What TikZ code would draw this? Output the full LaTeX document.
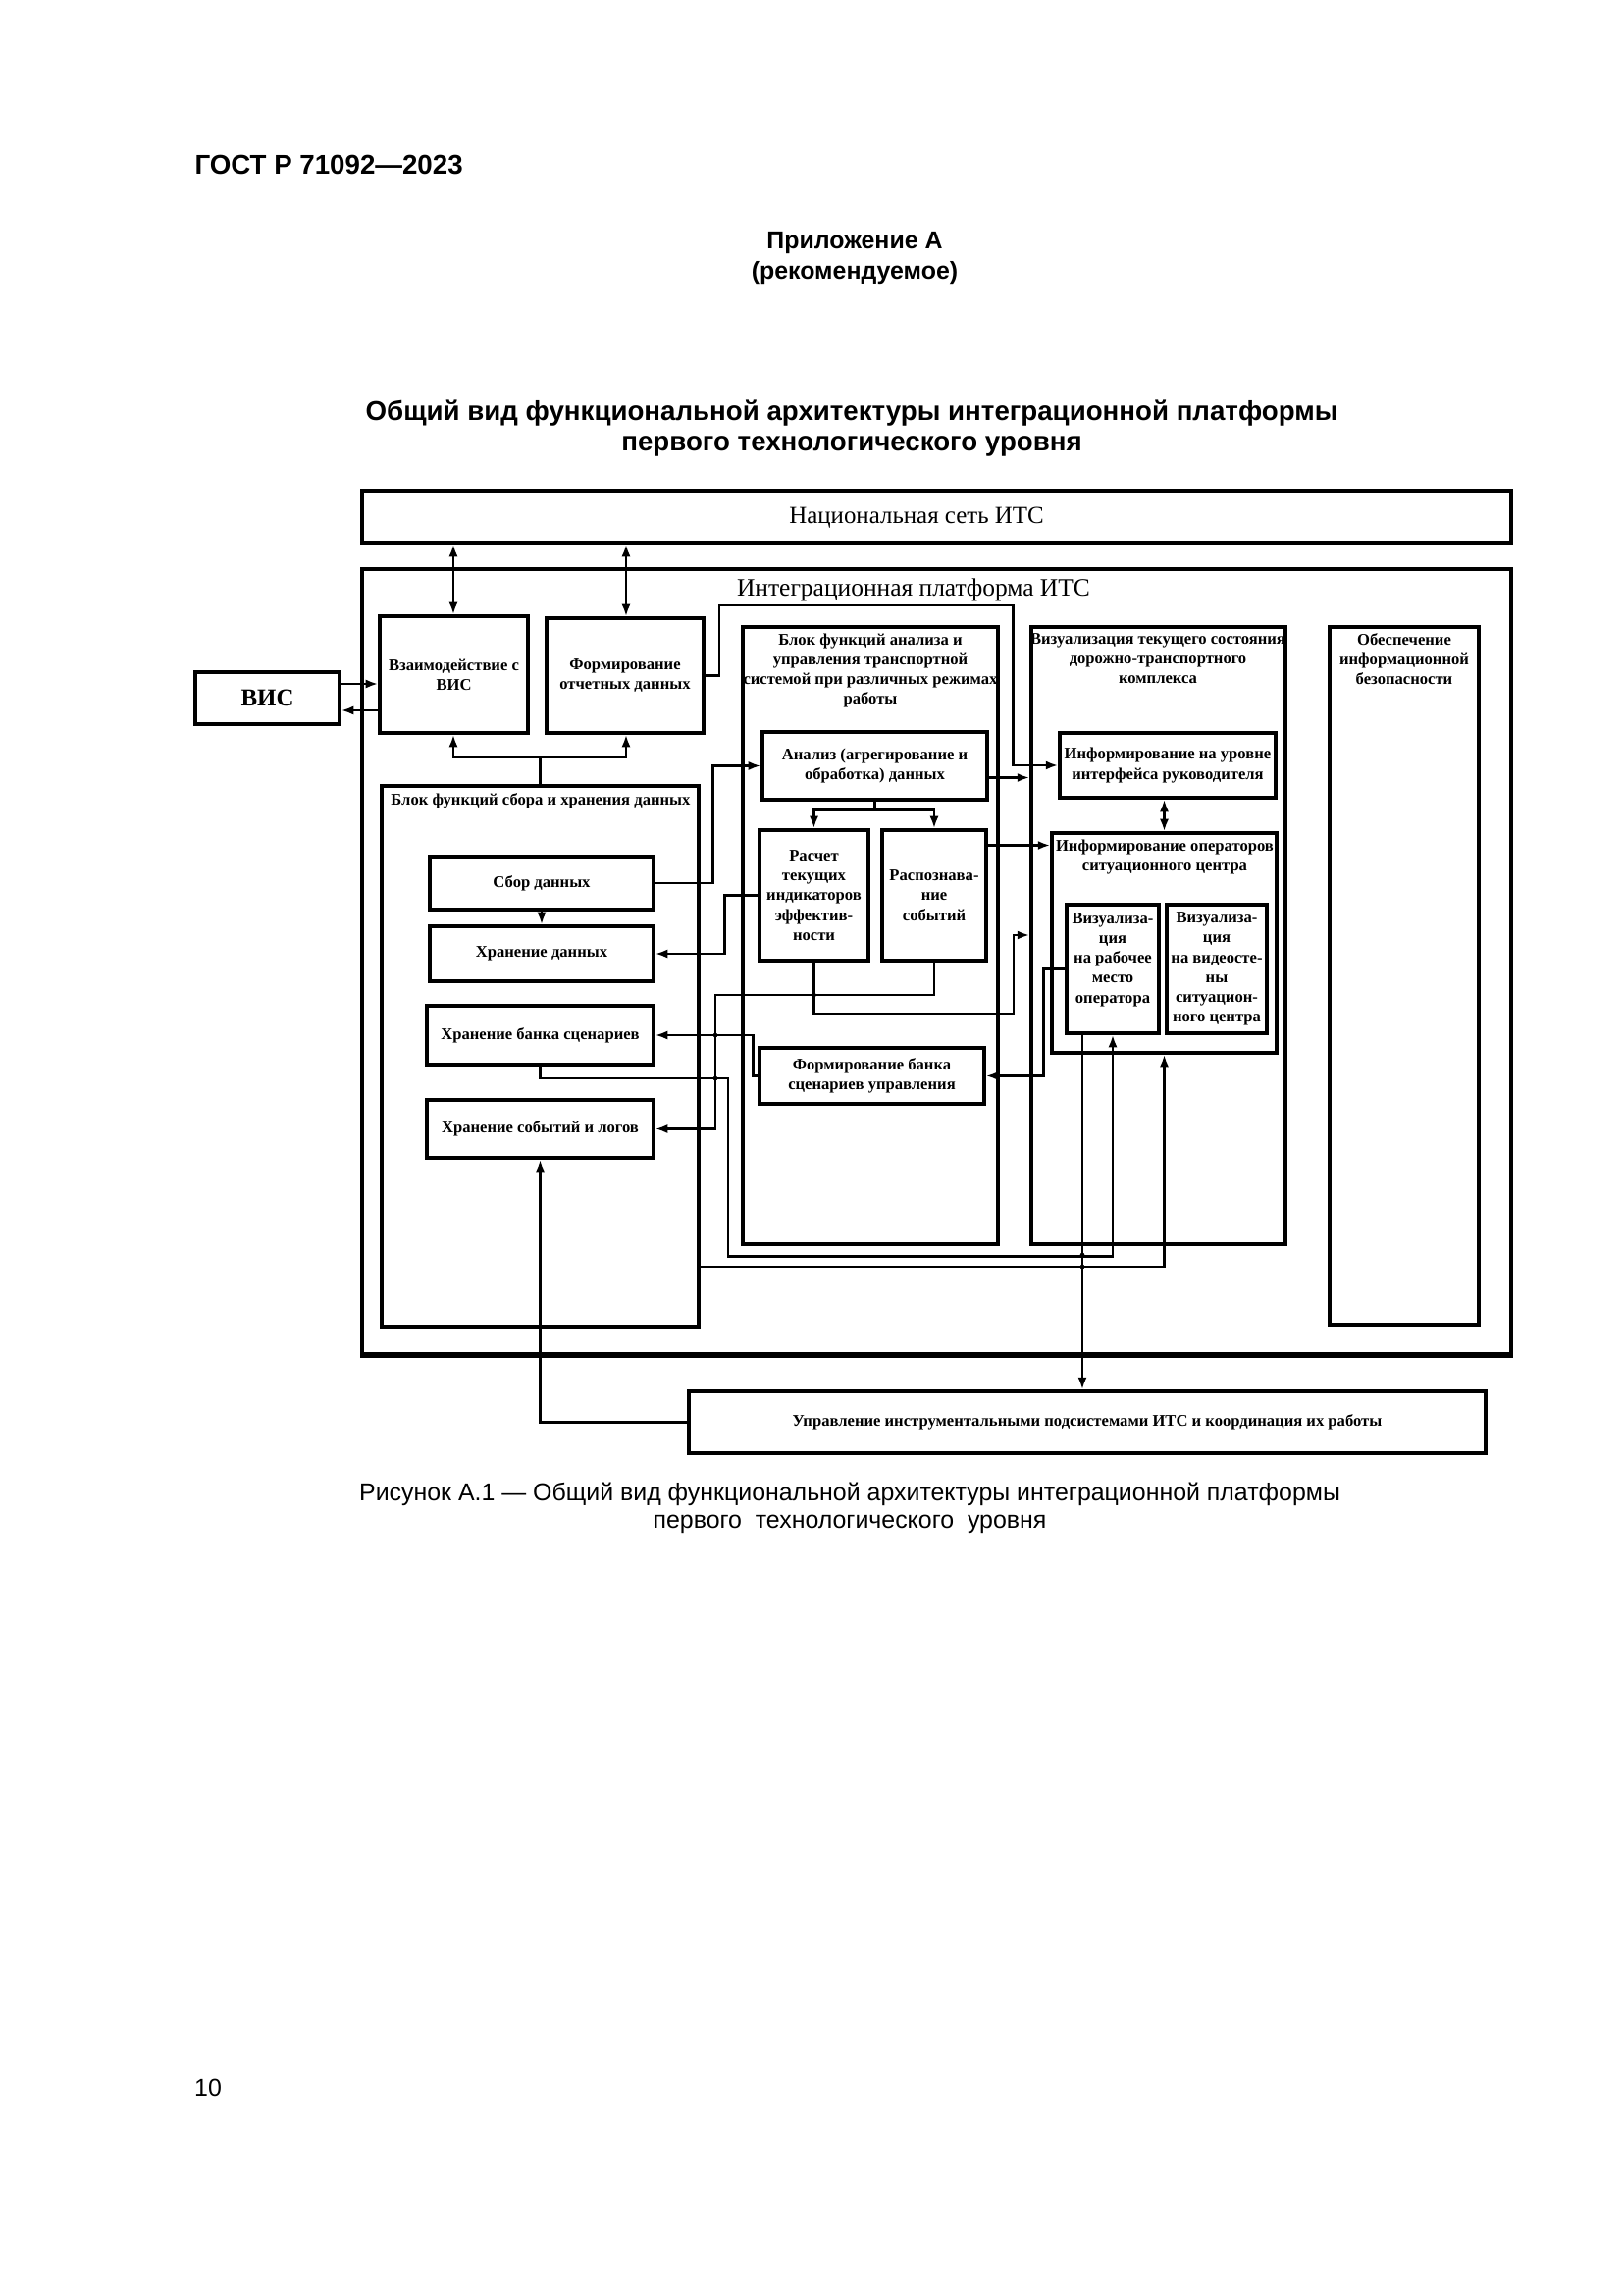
\documentclass[tikz,border=0pt]{standalone}
\usepackage{fontspec}
\setmainfont{Liberation Serif}
\newfontfamily\arial{Liberation Sans}
\usetikzlibrary{arrows.meta,calc}
\newcommand\bxnode[6][]{\node[box,#1, minimum width={(#4-#2)*0.12697mm}, minimum height={(#5-#3)*0.12697mm}] (#6) at ({(#2+#4)/2},{(#3+#5)/2})}
\begin{document}
\begin{tikzpicture}[x=0.12697mm,y=-0.12697mm,
  box/.style={draw, line width=1.2pt, inner sep=0pt, align=center, font=\bfseries\fontsize{6}{7.3}\selectfont},
  head/.style={inner sep=0pt, align=center, font=\bfseries\fontsize{6}{7.3}\selectfont},
  ln/.style={line width=1pt},
  arr/.style={ln, -{Latex[length=1.6mm,width=1.15mm]}},
  dbl/.style={ln, {Latex[length=1.6mm,width=1.15mm]}-{Latex[length=1.6mm,width=1.15mm]}},
  hdr/.style={font=\arial\bfseries\fontsize{9}{11}\selectfont, inner sep=0pt},
  captext/.style={font=\arial\fontsize{9}{11}\selectfont, inner sep=0pt},
  jdot/.style={fill, circle, inner sep=0pt, minimum size=0.6mm}
]
\useasboundingbox (0,0) rectangle (1654,2339);

% page texts
\node[hdr, anchor=west, font=\arial\bfseries\fontsize{10}{12}\selectfont] (gost) at (198,168) {ГОСТ Р 71092—2023};
\node[hdr] (app) at (871,248) {Приложение А};
\node[hdr] (rec) at (871,278) {(рекомендуемое)};
\node[hdr, font=\arial\bfseries\fontsize{10}{12}\selectfont] (t1) at (868,421) {Общий вид функциональной архитектуры интеграционной платформы};
\node[hdr, font=\arial\bfseries\fontsize{10}{12}\selectfont] (t2) at (868,455) {первого технологического уровня};
\node[captext] (c1) at (866,1523) {Рисунок А.1 — Общий вид функциональной архитектуры интеграционной платформы};
\node[captext] (c2) at (866,1553) {первого\ \ технологического\ \ уровня};
\node[captext] (pg) at (212,2128) {10};

% outer frames
\bxnode{369}{500}{1540}{553}{nat} {};
\node[inner sep=0pt, font=\fontsize{9}{11}\selectfont] (nattxt) at (934,528) {Национальная сеть ИТС};
\bxnode{369}{580}{1540}{1380}{itsp} {};
\draw[line width=1.8pt] (itsp.south west) -- (itsp.south east);
\node[inner sep=0pt, font=\fontsize{9.2}{11}\selectfont] (itsptitle) at (931,601) {Интеграционная платформа ИТС};

\bxnode[font=\bfseries\fontsize{9}{11}\selectfont]{199}{685}{346}{738}{visext} {ВИС};
\bxnode{387}{628}{538}{747}{vzaim} {Взаимодействие с\\ВИС};
\bxnode{557}{630}{717}{747}{formotch} {Формирование\\отчетных данных};

% data block
\bxnode{389}{801}{712}{1352}{datablk} {};
\node[head, anchor=north] (datahead) at (551,808) {Блок функций сбора и хранения данных};
\bxnode{438}{873}{666}{927}{sbor} {Сбор данных};
\bxnode{438}{944}{666}{1000}{hrdan} {Хранение данных};
\bxnode{435}{1025}{666}{1085}{hrbank} {Хранение банка сценариев};
\bxnode{435}{1121}{666}{1180}{hrsob} {Хранение событий и логов};

% analysis block
\bxnode{757}{639}{1017}{1268}{anblk} {};
\node[head, anchor=north] (anhead) at (887,645) {Блок функций анализа и\\управления транспортной\\системой при различных режимах\\работы};
\bxnode{777}{746}{1006}{815}{analysis} {Анализ (агрегирование и\\обработка) данных};
\bxnode{774}{846}{885}{979}{raschet} {Расчет\\текущих\\индикаторов\\эффектив-\\ности};
\bxnode{899}{846}{1005}{979}{raspozn} {Распознава-\\ние\\событий};
\bxnode{774}{1068}{1003}{1125}{formbank} {Формирование банка\\сценариев управления};

% visualization block
\bxnode{1051}{639}{1310}{1268}{visblk} {};
\node[head, anchor=north] (vishead) at (1180,645) {Визуализация текущего состояния\\дорожно-транспортного\\комплекса};
\bxnode{1080}{747}{1300}{813}{infruk} {Информирование на уровне\\интерфейса руководителя};
\bxnode{1072}{849}{1301}{1073}{infoper} {};
\node[head, anchor=north] (operhead) at (1187,855) {Информирование операторов\\ситуационного центра};
\bxnode{1087}{922}{1181}{1053}{vizrab} {};
\node[head] (vizrabtxt) at (1134,978) {Визуализа-\\ция\\на рабочее\\место\\оператора};
\bxnode{1189}{922}{1291}{1053}{vizvid} {Визуализа-\\ция\\на видеосте-\\ны\\ситуацион-\\ного центра};

% security
\bxnode{1355}{639}{1507}{1350}{secblk} {};
\node[head, anchor=north] (sechead) at (1431,645) {Обеспечение\\информационной\\безопасности};

% bottom
\bxnode{702}{1418}{1514}{1481}{upr} {Управление инструментальными подсистемами ИТС и координация их работы};

% helper coordinates
\coordinate (xA) at (462,0);
\coordinate (xB) at (638,0);
\coordinate (v1) at (0,697);
\coordinate (v2) at (0,724);
\coordinate (j5) at (550,772);
\coordinate (y953) at (0,953);
\coordinate (y1291) at (0,1291);
\coordinate (x1103) at (1103,0);

% connectors
\draw[dbl] (nat.south -| xA) -- (vzaim.north -| xA);
\draw[dbl] (nat.south -| xB) -- (formotch.north -| xB);
\draw[arr] (visext.east |- v1) -- (vzaim.west |- v1);
\draw[arr] (vzaim.west |- v2) -- (visext.east |- v2);
\draw[ln] (datablk.north) -- (datablk.north |- j5);
\draw[arr] (datablk.north |- j5) -| (vzaim.south -| xA);
\draw[arr] (datablk.north |- j5) -| (formotch.south -| xB);
\draw[arr] (formotch.east) -| (733,617) -| ($(infruk.west)+(-46,0)$) -- (infruk.west);
\draw[arr] ($(analysis.east)+(0,12)$) coordinate (p7) -- (p7 -| visblk.west);
\draw[ln] (analysis.south) -- ++(0,9) coordinate (p8);
\draw[arr] (p8) -| (raschet.north);
\draw[arr] (p8) -| (raspozn.north);
\draw[arr] (sbor.east) -| ($(analysis.west)+(-49,0)$) -- (analysis.west);
\draw[arr] (sbor.south) -- (hrdan.north);
\draw[arr] (raschet.west) -| ($(hrdan.east)+(71,0)$) -- (hrdan.east);
\draw[arr] ($(raspozn.east)+(0,-51)$) coordinate (p11) -- (p11 -| infoper.west);
\draw[arr] (raschet.south) |- (1033,1033) -- (1033,953) -- (visblk.west |- y953);
\draw[arr] (raspozn.south) |- (729,1014) |- (hrsob.east);
\draw[arr] (formbank.west) -| ($(hrbank.east)+(100,0)$) -- (hrbank.east);
\draw[arr] (vizrab.west) -| ($(formbank.east)+(59,0)$) -- (formbank.east);
\draw[dbl] (infoper.north) -- (infoper.north |- infruk.south);
\draw[arr] (hrbank.south) |- (742,1099) |- ($(vizrab.south)+(0,226)$) -- (vizrab.south);
\draw[arr] (datablk.east |- y1291) -| (infoper.south);
\draw[arr] (vizrab.south -| x1103) -- (upr.north -| x1103);
\draw[arr] (upr.west) -| (hrsob.south);

% junction dots
\node[jdot] (d1) at (729,1055) {};
\node[jdot] (d2) at (729,1099) {};
\node[jdot] (d3) at (712,1099) {};
\node[jdot] (d4) at (712,1150) {};
\node[jdot] (d5) at (829.5,1014) {};
\node[jdot] (d6) at (1103,1268) {};
\node[jdot] (d7) at (1103,1279) {};
\node[jdot] (d8) at (1103,1291) {};
\end{tikzpicture}
\end{document}
